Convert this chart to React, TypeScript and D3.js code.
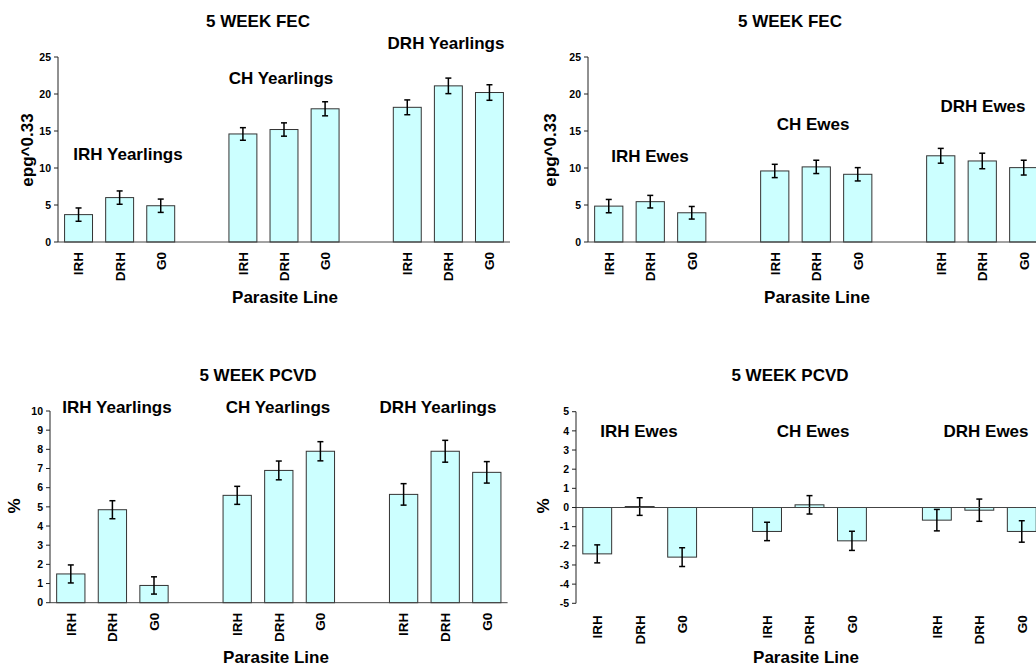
import React from "react";
import * as d3 from "d3";

const parasiteLines = ["IRH", "DRH", "G0"];
const yearlingGroups = ["IRH Yearlings", "CH Yearlings", "DRH Yearlings"];
const eweGroups = ["IRH Ewes", "CH Ewes", "DRH Ewes"];

const fecYearlings = [3.7, 6.0, 4.9, 14.6, 15.2, 18.0, 18.2, 21.1, 20.2];
const fecYearlingsErr = [0.9, 0.9, 0.9, 0.85, 0.9, 0.95, 1.0, 1.05, 1.05];
const fecEwes = [4.85, 5.45, 3.95, 9.6, 10.15, 9.15, 11.65, 10.95, 10.05];
const fecEwesErr = [0.9, 0.85, 0.85, 0.9, 0.9, 0.9, 1.0, 1.05, 1.0];
const pcvdYearlings = [1.5, 4.85, 0.9, 5.6, 6.9, 7.9, 5.65, 7.9, 6.8];
const pcvdYearlingsErr = [0.47, 0.47, 0.45, 0.47, 0.49, 0.5, 0.56, 0.57, 0.56];
const pcvdEwes = [-2.42, 0.05, -2.59, -1.25, 0.14, -1.74, -0.66, -0.14, -1.25];
const pcvdEwesErr = [0.47, 0.46, 0.49, 0.48, 0.48, 0.5, 0.56, 0.58, 0.56];

const fecTicks = [0, 5, 10, 15, 20, 25];
const pcvdYearTicks = [0, 1, 2, 3, 4, 5, 6, 7, 8, 9, 10];
const pcvdEweTicks = [5, 4, 3, 2, 1, 0, -1, -2, -3, -4, -5];

const FONT = "'Liberation Sans', Arial, Helvetica, sans-serif";

type PanelCfg = {
  left: number; right: number; top: number; bottom: number;
  domain: [number, number]; ticks: number[];
  values: number[]; errs: number[]; groups: string[];
  title: string; titlePos: [number, number];
  yLabel: string; yLabelPos: [number, number];
  xLabelPos: [number, number];
  groupPos: [number, number][];
  tickOffset: number;
};

function Panel({ c }: { c: PanelCfg }) {
  // 11 slots: 3 bars, gap, 3 bars, gap, 3 bars
  const slots: string[] = [];
  c.groups.forEach((g, gi) => {
    parasiteLines.forEach((p) => slots.push(g + "|" + p));
    if (gi < c.groups.length - 1) slots.push("gap" + gi);
  });
  const x = d3.scaleBand<string>().domain(slots).range([c.left, c.right]).paddingInner(0.32).paddingOuter(0.16);
  const y = d3.scaleLinear().domain(c.domain).range([c.bottom, c.top]);
  const barKeys = slots.filter((s) => !s.startsWith("gap"));
  const zeroY = y(0);
  const bw = x.bandwidth();
  return (
    <g fontFamily={FONT} fontWeight="bold">
      <text x={c.titlePos[0]} y={c.titlePos[1]} dy="0.35em" textAnchor="middle" fontSize={17}>{c.title}</text>
      {c.groups.map((g, i) => (
        <text key={g} x={c.groupPos[i][0]} y={c.groupPos[i][1]} dy="0.35em" textAnchor="middle" fontSize={17}>{g}</text>
      ))}
      {barKeys.map((k, i) => {
        const v = c.values[i];
        const x0 = x(k)!;
        const yTop = Math.min(y(v), zeroY);
        const h = Math.max(Math.abs(y(v) - zeroY), 0.8);
        const cx = x0 + bw / 2;
        const e1 = y(v + c.errs[i]);
        const e2 = y(v - c.errs[i]);
        return (
          <g key={k}>
            <rect x={x0} y={yTop} width={bw} height={h} fill="#CCFFFF" stroke="#333" strokeWidth={1} />
            <line x1={cx} x2={cx} y1={e1} y2={e2} stroke="#000" strokeWidth={1.5} />
            <line x1={cx - 3} x2={cx + 3} y1={e1} y2={e1} stroke="#000" strokeWidth={1.5} />
            <line x1={cx - 3} x2={cx + 3} y1={e2} y2={e2} stroke="#000" strokeWidth={1.5} />
            <text transform={`translate(${cx},${c.bottom + c.tickOffset}) rotate(-90)`} dy="0.36em" textAnchor="end" fontSize={13.5}>
              {parasiteLines[i % 3]}
            </text>
          </g>
        );
      })}
      <line x1={c.left} x2={c.right} y1={zeroY} y2={zeroY} stroke="#444" strokeWidth={1} />
      <line x1={c.left} x2={c.left} y1={c.top} y2={c.bottom} stroke="#222" strokeWidth={1} />
      {c.ticks.map((t) => (
        <g key={t}>
          <line x1={c.left - 4} x2={c.left} y1={y(t)} y2={y(t)} stroke="#222" strokeWidth={1} />
          <text x={c.left - 7} y={y(t)} dy="0.35em" textAnchor="end" fontSize={10.5}>{t}</text>
        </g>
      ))}
      <text transform={`translate(${c.yLabelPos[0]},${c.yLabelPos[1]}) rotate(-90)`} dy="0.35em" textAnchor="middle" fontSize={17}>{c.yLabel}</text>
      <text x={c.xLabelPos[0]} y={c.xLabelPos[1]} dy="0.35em" textAnchor="middle" fontSize={17}>Parasite Line</text>
    </g>
  );
}

const panels: PanelCfg[] = [
  {
    left: 58, right: 510, top: 57, bottom: 242, domain: [0, 25], ticks: fecTicks,
    values: fecYearlings, errs: fecYearlingsErr, groups: yearlingGroups,
    title: "5 WEEK FEC", titlePos: [258, 21], yLabel: "epg^0.33", yLabelPos: [27, 150],
    xLabelPos: [285, 297], groupPos: [[128, 154], [281, 78], [446, 43]], tickOffset: 10,
  },
  {
    left: 588, right: 1044.5, top: 57, bottom: 242, domain: [0, 25], ticks: fecTicks,
    values: fecEwes, errs: fecEwesErr, groups: eweGroups,
    title: "5 WEEK FEC", titlePos: [790, 21], yLabel: "epg^0.33", yLabelPos: [550, 150],
    xLabelPos: [817, 297], groupPos: [[650, 156], [813, 124], [983, 106]], tickOffset: 10,
  },
  {
    left: 50, right: 507.6, top: 411, bottom: 602.7, domain: [0, 10], ticks: pcvdYearTicks,
    values: pcvdYearlings, errs: pcvdYearlingsErr, groups: yearlingGroups,
    title: "5 WEEK PCVD", titlePos: [258, 375], yLabel: "%", yLabelPos: [14, 506],
    xLabelPos: [276, 657], groupPos: [[117, 407], [278, 407], [438, 407]], tickOffset: 10,
  },
  {
    left: 576, right: 1043, top: 411.7, bottom: 603.3, domain: [-5, 5], ticks: pcvdEweTicks,
    values: pcvdEwes, errs: pcvdEwesErr, groups: eweGroups,
    title: "5 WEEK PCVD", titlePos: [790, 375], yLabel: "%", yLabelPos: [543, 506],
    xLabelPos: [806, 657], groupPos: [[639, 431], [813, 431], [986, 431]], tickOffset: 12,
  },
];

export default function App() {
  return (
    <svg width={1036} height={669} style={{ position: "absolute", left: 0, top: 0, background: "#fff" }}>
      <rect width={1036} height={669} fill="#fff" />
      {panels.map((p, i) => <Panel key={i} c={p} />)}
    </svg>
  );
}
